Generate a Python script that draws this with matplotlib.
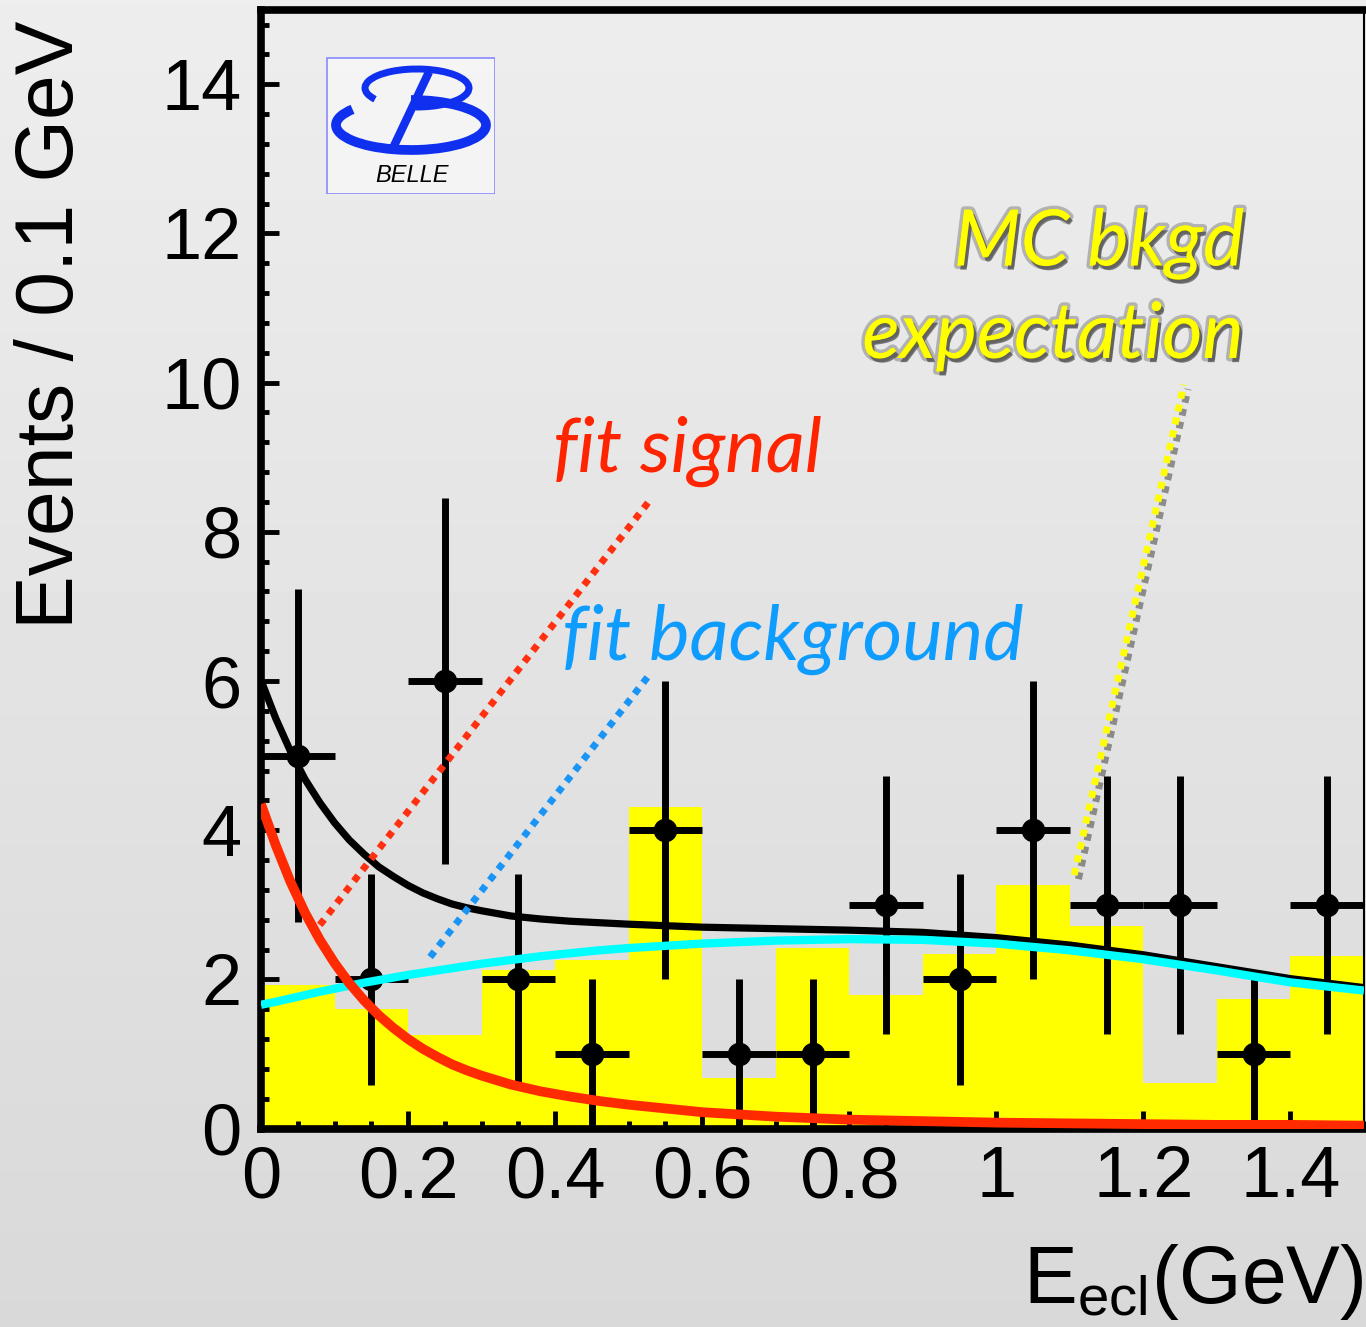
import numpy as np
import matplotlib.pyplot as plt
import matplotlib.patheffects as pe
from matplotlib.patches import Arc, Rectangle
from matplotlib.ticker import MultipleLocator

plt.rcParams['font.family'] = ['Liberation Sans', 'DejaVu Sans']
plt.rcParams['mathtext.fontset'] = 'custom'
plt.rcParams['mathtext.rm'] = 'Liberation Sans'
plt.rcParams['mathtext.it'] = 'Liberation Sans:italic'

# data (bins of 0.1 GeV)
bin_centers = [0.05, 0.15, 0.25, 0.35, 0.45, 0.55, 0.65, 0.75,
               0.85, 0.95, 1.05, 1.15, 1.25, 1.35, 1.45]
data_counts = [5, 2, 6, 2, 1, 4, 1, 1, 3, 2, 4, 3, 3, 1, 3]
mc_bkgd = [1.93, 1.60, 1.25, 2.13, 2.26, 4.31, 0.68, 2.42,
           1.79, 2.34, 3.26, 2.72, 0.61, 1.74, 2.31]

# fit curves
fit_x = [0.0, 0.02, 0.04, 0.06, 0.08, 0.10, 0.12, 0.14, 0.16, 0.18, 0.20, 0.22,
         0.24, 0.26, 0.28, 0.30, 0.34, 0.38, 0.42, 0.46, 0.50, 0.60, 0.70, 0.80,
         0.90, 1.00, 1.10, 1.20, 1.30, 1.40, 1.50]
fit_sig = [4.35, 3.80, 3.31, 2.89, 2.53, 2.22, 1.95, 1.72, 1.52, 1.35, 1.20, 1.07,
           0.96, 0.86, 0.78, 0.71, 0.59, 0.50, 0.43, 0.37, 0.32, 0.22, 0.16, 0.12,
           0.10, 0.08, 0.07, 0.06, 0.05, 0.05, 0.04]
fit_bkg = [1.66, 1.70, 1.745, 1.79, 1.835, 1.875, 1.915, 1.955, 1.99, 2.025, 2.06, 2.09,
           2.12, 2.15, 2.18, 2.21, 2.26, 2.31, 2.35, 2.39, 2.42, 2.48, 2.52, 2.54,
           2.53, 2.48, 2.39, 2.27, 2.12, 1.96, 1.85]
fit_tot = [6.01, 5.50, 5.06, 4.68, 4.37, 4.10, 3.87, 3.68, 3.51, 3.38, 3.26, 3.16,
           3.08, 3.01, 2.96, 2.92, 2.85, 2.81, 2.78, 2.76, 2.74, 2.70, 2.68, 2.66,
           2.63, 2.56, 2.46, 2.33, 2.17, 2.01, 1.89]

xtick_vals = [0, 0.2, 0.4, 0.6, 0.8, 1.0, 1.2, 1.4]
xtick_labels = ['0', '0.2', '0.4', '0.6', '0.8', '1', '1.2', '1.4']
ytick_vals = [0, 2, 4, 6, 8, 10, 12, 14]

fig = plt.figure(figsize=(13.66, 13.27), dpi=100)

# brushed metal-ish background
bg = fig.add_axes([0, 0, 1, 1], zorder=-10)
grad = np.linspace(0.93, 0.85, 256).reshape(-1, 1)
bg.imshow(grad, cmap='gray', vmin=0, vmax=1, aspect='auto', extent=[0, 1, 0, 1])
bg.axis('off')

ax = fig.add_axes([261/1366, 198.4/1327, 1103/1366, 1119/1327])
ax.patch.set_alpha(0)

ax.bar(bin_centers, mc_bkgd, width=0.1, color='#ffff00', edgecolor='none', zorder=1)

errs = np.sqrt(data_counts)
ax.errorbar(bin_centers, data_counts, yerr=errs, xerr=0.05, fmt='o', color='black',
            ms=16, elinewidth=5, capsize=0, zorder=3)

ax.plot(fit_x, fit_tot, color='black', lw=5.2, zorder=4, solid_capstyle='butt',
        solid_joinstyle='round')
ax.plot(fit_x, fit_bkg, color='#00ffff', lw=6, zorder=5, solid_capstyle='butt',
        solid_joinstyle='round')
ax.plot(fit_x, fit_sig, color='#ff2a00', lw=7, zorder=6, solid_capstyle='butt',
        solid_joinstyle='round')

ax.set_xlim(0, 1.5)
ax.set_ylim(0, 15)
ax.set_xticks(xtick_vals)
ax.set_xticklabels(xtick_labels)
ax.set_yticks(ytick_vals)
ax.xaxis.set_minor_locator(MultipleLocator(0.05))
ax.yaxis.set_minor_locator(MultipleLocator(0.4))
ax.tick_params(which='both', direction='in', top=False, right=False, width=3.5, labelsize=52)
ax.tick_params(which='major', length=13)
ax.tick_params(which='minor', length=6)
ax.tick_params(axis='x', pad=12)
ax.tick_params(axis='y', pad=14)
for side in ['left', 'bottom', 'top']:
    ax.spines[side].set_linewidth(5.5)
ax.spines['right'].set_linewidth(1.5)

# labels
fig.text(52/1366, 0.755, 'Events / 0.1 GeV', rotation=90, ha='center', va='center', fontsize=58)
fig.text(1363/1366, 24/1327, r'E$_{\mathrm{ecl}}$(GeV)', ha='right', va='baseline', fontsize=58)

# annotations
ax.text(0.397, 8.8, 'fit signal', color='#ff2400', fontsize=55, family='Lato',
        style='italic', va='baseline', zorder=7)
ax.plot([0.080, 0.531], [2.73, 8.45], color='#ff3010', lw=5, ls=(0, (1, 1)),
        dash_capstyle='butt', zorder=7)
ax.text(0.41, 6.28, 'fit background', color='#0f9cff', fontsize=55, family='Lato',
        style='italic', va='baseline', zorder=7)
ax.plot([0.230, 0.531], [2.30, 6.12], color='#1a95f5', lw=5, ls=(0, (1, 1)),
        dash_capstyle='butt', zorder=7)

shadow = [pe.withStroke(linewidth=5, foreground=(0.2, 0.2, 0.2, 0.3)),
          pe.SimplePatchShadow(offset=(2, -3), shadow_rgbFace='#222222', alpha=0.55),
          pe.Normal()]
ax.text(1.337, 11.57, 'MC bkgd', color='#ffff00', fontsize=56, family='Lato',
        style='italic', ha='right', va='baseline', zorder=7, path_effects=shadow)
ax.text(1.337, 10.33, 'expectation', color='#ffff00', fontsize=56, family='Lato',
        style='italic', ha='right', va='baseline', zorder=7, path_effects=shadow)
ax.plot([1.106, 1.255], [3.40, 9.97], color='#ffff00', lw=5, ls=(0, (1, 0.9)),
        dash_capstyle='butt', zorder=7,
        path_effects=[pe.SimpleLineShadow(offset=(3, -3), shadow_color='#333333', alpha=0.5),
                      pe.Normal()])

# Belle logo
lg = fig.add_axes([326/1366, (1327-194)/1327, 169/1366, 137/1327])
lg.set_xlim(0, 169)
lg.set_ylim(0, 137)
lg.axis('off')
lg.add_patch(Rectangle((0.5, 0.5), 168, 136, facecolor='white', alpha=0.45, edgecolor='none'))
lg.add_patch(Rectangle((0.5, 0.5), 168, 136, facecolor='none', edgecolor='#8a8aff', lw=1.2))
blue = '#1030f0'
lg.add_patch(Arc((91, 106), 104, 38, theta1=-95, theta2=195, color=blue, lw=5))
lg.add_patch(Arc((85, 69), 150, 50, theta1=165, theta2=450, color=blue, lw=7))
lg.plot([67, 103], [46, 122], color=blue, lw=6, solid_capstyle='butt')
lg.text(86, 19, 'BELLE', fontsize=17, style='italic', ha='center', va='center', color='black')

fig.savefig('out.png', dpi=100)
